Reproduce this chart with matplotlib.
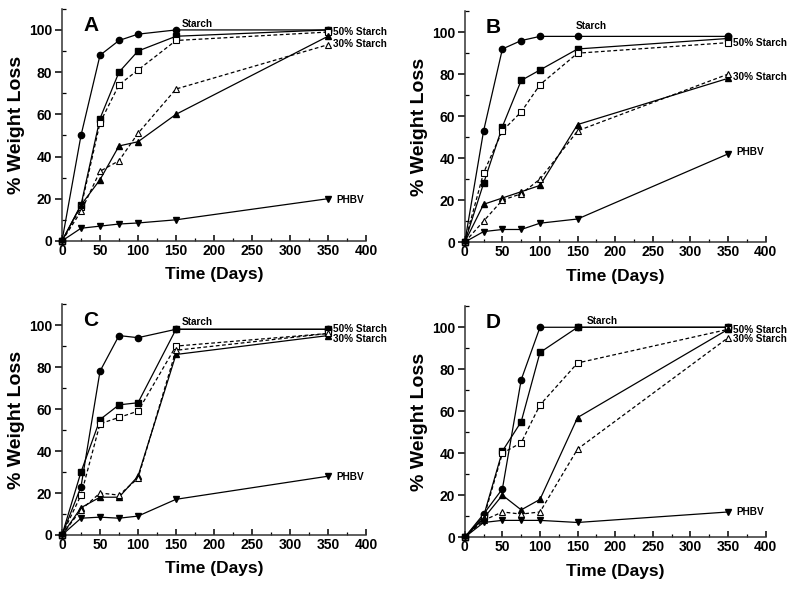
import matplotlib
matplotlib.use("Agg")
import matplotlib.pyplot as plt
from matplotlib.ticker import MultipleLocator

plt.rcParams['font.family'] = ['Liberation Sans', 'DejaVu Sans']
plt.rcParams['font.weight'] = 'bold'

days = [0, 25, 50, 75, 100, 150, 350]

# Panel A
A_starch = [0, 50, 88, 95, 98, 100, 100]
A_s50_f = [0, 17, 58, 80, 90, 97, 100]
A_s50_o = [0, 16, 56, 74, 81, 95, 99]
A_s30_f = [0, 17, 29, 45, 47, 60, 97]
A_s30_o = [0, 14, 33, 38, 51, 72, 93]
A_phbv = [0, 6, 7, 8, 8.5, 10, 20]

# Panel B
B_starch = [0, 53, 92, 96, 98, 98, 98]
B_s50_f = [0, 28, 55, 77, 82, 92, 97]
B_s50_o = [0, 33, 53, 62, 75, 90, 95]
B_s30_f = [0, 18, 21, 24, 27, 56, 78]
B_s30_o = [0, 10, 20, 23, 30, 53, 80]
B_phbv = [0, 5, 6, 6, 9, 11, 42]

# Panel C
C_starch = [0, 23, 78, 95, 94, 98, 98]
C_s50_f = [0, 30, 55, 62, 63, 98, 98]
C_s50_o = [0, 19, 53, 56, 59, 90, 96]
C_s30_f = [0, 13, 18, 18, 28, 86, 95]
C_s30_o = [0, 12, 20, 19, 27, 88, 96]
C_phbv = [0, 8, 8.5, 8, 9, 17, 28]

# Panel D
D_starch = [0, 11, 23, 75, 100, 100, 100]
D_s50_f = [0, 10, 41, 55, 88, 100, 100]
D_s50_o = [0, 9, 40, 45, 63, 83, 99]
D_s30_f = [0, 9, 20, 13, 18, 57, 99]
D_s30_o = [0, 8, 12, 11, 12, 42, 95]
D_phbv = [0, 7, 8, 8, 8, 7, 12]

panels = [
    ("A", A_starch, A_s50_f, A_s50_o, A_s30_f, A_s30_o, A_phbv),
    ("B", B_starch, B_s50_f, B_s50_o, B_s30_f, B_s30_o, B_phbv),
    ("C", C_starch, C_s50_f, C_s50_o, C_s30_f, C_s30_o, C_phbv),
    ("D", D_starch, D_s50_f, D_s50_o, D_s30_f, D_s30_o, D_phbv),
]

# label positions (x, y) in data coords per panel
label_pos = {
    "A": {"Starch": (158, 103), "50% Starch": (357, 99), "30% Starch": (357, 93.5), "PHBV": (361, 19.5)},
    "B": {"Starch": (148, 103), "50% Starch": (357, 95), "30% Starch": (357, 78.5), "PHBV": (361, 43)},
    "C": {"Starch": (158, 101.5), "50% Starch": (357, 98), "30% Starch": (357, 93.5), "PHBV": (361, 27.5)},
    "D": {"Starch": (162, 103), "50% Starch": (357, 98.5), "30% Starch": (357, 94.5), "PHBV": (361, 12)},
}

axes_rects = [
    [0.0775, 0.591, 0.38, 0.394],
    [0.581, 0.589, 0.376, 0.392],
    [0.0775, 0.0917, 0.38, 0.392],
    [0.581, 0.088, 0.376, 0.392],
]

fig = plt.figure(figsize=(8, 5.89), dpi=100)

ms = 4.5
lw = 0.9
for rect, (name, st, s50f, s50o, s30f, s30o, ph) in zip(axes_rects, panels):
    ax = fig.add_axes(rect)
    kw = dict(color='black', lw=lw, clip_on=False, zorder=3)
    ax.plot(days, st, marker='o', ms=ms, ls='-', **kw)
    ax.plot(days, s50f, marker='s', ms=ms, ls='-', **kw)
    ax.plot(days, s50o, marker='s', ms=ms, ls=(0, (3, 2)), mfc='white', mew=0.8, **kw)
    ax.plot(days, s30f, marker='^', ms=ms + 0.5, ls='-', **kw)
    ax.plot(days, s30o, marker='^', ms=ms + 0.5, ls=(0, (3, 2)), mfc='white', mew=0.8, **kw)
    ax.plot(days, ph, marker='v', ms=ms + 0.5, ls='-', **kw)

    ax.set_xlim(0, 400)
    ax.set_ylim(0, 110)
    ax.spines['top'].set_visible(False)
    ax.spines['right'].set_visible(False)
    ax.spines['left'].set_linewidth(1.1)
    ax.spines['bottom'].set_linewidth(1.1)
    ax.spines['left'].set_color('#333333')
    ax.spines['bottom'].set_color('#333333')
    ax.xaxis.set_major_locator(MultipleLocator(50))
    ax.xaxis.set_minor_locator(MultipleLocator(25))
    ax.set_yticks([0, 20, 40, 60, 80, 100])
    ax.yaxis.set_minor_locator(MultipleLocator(10))
    ax.tick_params(axis='y', which='major', direction='out', length=5, width=1.1, labelsize=10, pad=2)
    ax.tick_params(axis='y', which='minor', direction='in', length=3, width=0.9)
    ax.tick_params(axis='x', which='major', direction='in', length=4, width=1.1, labelsize=10, pad=2)
    ax.tick_params(axis='x', which='minor', direction='in', length=2.5, width=0.9)
    for lab in ax.get_xticklabels() + ax.get_yticklabels():
        lab.set_fontweight('bold')
    ax.set_xlabel("Time (Days)", fontsize=12.5, fontweight='bold', labelpad=7)
    ax.set_ylabel("% Weight Loss", fontsize=14, fontweight='bold', labelpad=3)
    ax.text(0.07, 0.97, name, transform=ax.transAxes, fontsize=15, fontweight='bold',
            va='top', ha='left')
    for txt, (x, y) in label_pos[name].items():
        ax.text(x, y, txt, fontsize=7.2, fontweight='bold', va='center', ha='left')

fig.savefig("out.png", dpi=100)
